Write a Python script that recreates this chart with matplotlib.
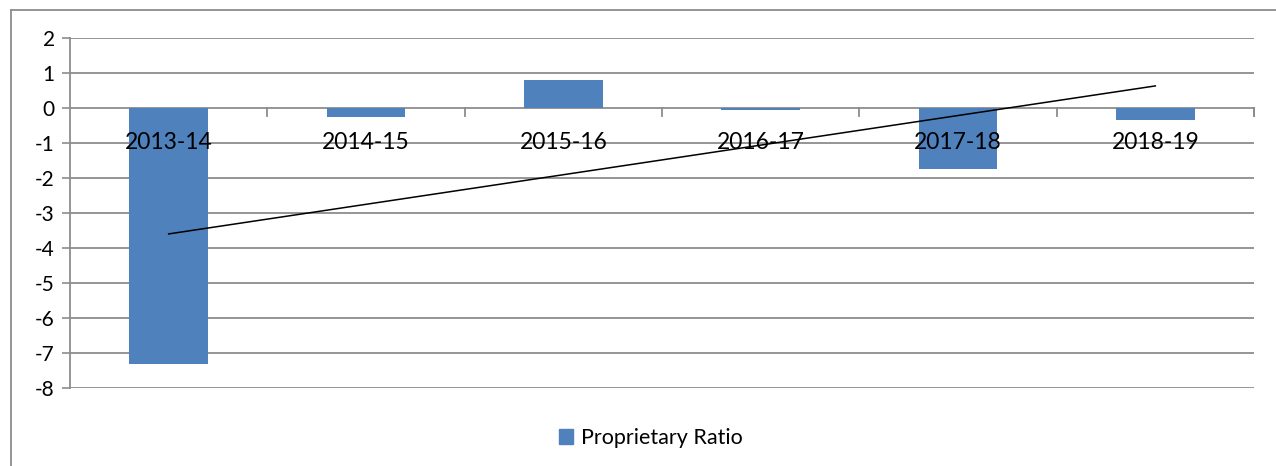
import numpy as np
import matplotlib
matplotlib.use("Agg")
import matplotlib.pyplot as plt
from matplotlib.patches import Rectangle
from matplotlib.lines import Line2D

years = ["2013-14", "2014-15", "2015-16", "2016-17", "2017-18", "2018-19"]
ratio = [-7.31, -0.25, 0.79, -0.07, -1.73, -0.33]
y_ticks = [2, 1, 0, -1, -2, -3, -4, -5, -6, -7, -8]

BAR = "#4F81BD"
GRID = "#8C8C8C"
plt.rcParams["font.family"] = ["Lato", "DejaVu Sans"]

W, H = 1276, 466
fig = plt.figure(figsize=(W / 100, H / 100), dpi=100)
ax = fig.add_axes([70 / W, 1 - 388 / H, (1254 - 70) / W, (388 - 38) / H])

x = np.arange(len(years))
ax.bar(x, ratio, width=0.4, color=BAR, zorder=2, label="Proprietary Ratio")

# linear trend line (least squares over category index)
k, b = np.polyfit(x + 1, ratio, 1)
ax.plot(x, k * (x + 1) + b, color="black", linewidth=1.1, zorder=3)

ax.set_xlim(-0.5, len(years) - 0.5)
ax.set_ylim(-8, 2)
ax.set_yticks(y_ticks)
ax.set_yticklabels([str(t) for t in y_ticks], fontsize=15)
ax.tick_params(axis="y", length=6, width=1.2, color=GRID, pad=5)
ax.set_xticks([])
for yv in y_ticks:
    ax.axhline(yv, color=GRID, linewidth=1.3, zorder=1)

for s in ["top", "right", "bottom"]:
    ax.spines[s].set_visible(False)
ax.spines["left"].set_color(GRID)
ax.spines["left"].set_linewidth(1.3)

# category tick marks hanging from the zero line
for xb in np.arange(0.5, len(years), 1.0):
    ax.plot([xb, xb], [0, -0.22], color=GRID, linewidth=1.3, zorder=1, clip_on=False)
ax.plot([len(years) - 0.5] * 2, [0, -0.22], color=GRID, linewidth=1.3, clip_on=False)

# category labels sit just below the zero line
for i, lab in enumerate(years):
    ax.annotate(lab, (i, 0), xytext=(0, -25), textcoords="offset points",
                ha="center", va="center", fontsize=16.5, zorder=4)

fig.legend(handles=[Rectangle((0, 0), 1, 1, color=BAR)], labels=["Proprietary Ratio"],
           loc="center", bbox_to_anchor=(651 / W, 1 - 438 / H), frameon=False,
           fontsize=15.5, handlelength=0.65, handleheight=0.65, handletextpad=0.4)

# outer chart frame
fig.add_artist(Line2D([10.5 / W, 10.5 / W], [0, 1 - 10 / H], color=GRID, linewidth=1.3))
fig.add_artist(Line2D([10.5 / W, 1], [1 - 10 / H, 1 - 10 / H], color=GRID, linewidth=1.3))

fig.savefig("out.png", dpi=100)
